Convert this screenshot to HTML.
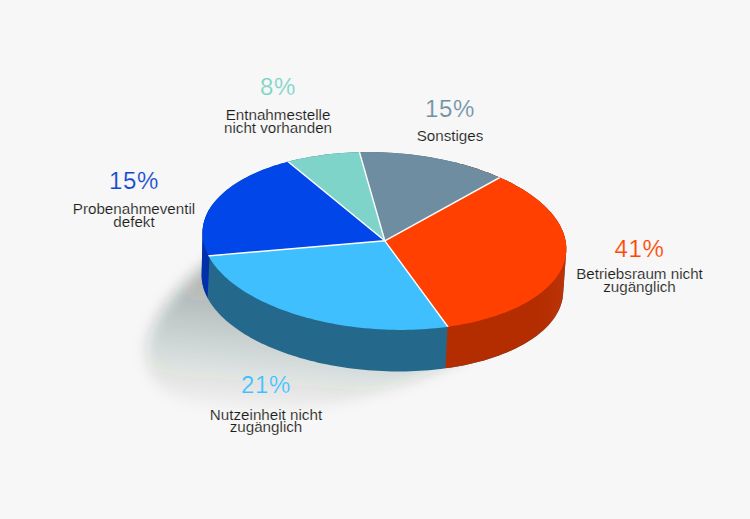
<!DOCTYPE html><html><head><meta charset="utf-8"><title>Chart</title><style>
html,body{margin:0;padding:0}
body{width:750px;height:519px;background:#f7f7f7;position:relative;overflow:hidden;font-family:"Liberation Sans",sans-serif}
.t{position:absolute;white-space:nowrap;transform:translateX(-50%);line-height:1}
.p{letter-spacing:0.7px;font-size:24px;-webkit-text-stroke:0.2px #f7f7f7}
.l{font-size:15.2px;color:#1d1d1b;-webkit-text-stroke:0.15px #f7f7f7}
</style></head><body>
<svg width="750" height="519" viewBox="0 0 750 519" style="position:absolute;left:0;top:0">
<defs><clipPath id="top"><path d="M566.22,251.36 L566.02,253.66 L565.70,255.96 L565.26,258.25 L564.69,260.53 L564.00,262.79 L563.19,265.04 L562.25,267.27 L561.20,269.49 L560.02,271.68 L558.72,273.85 L557.30,276.00 L555.76,278.13 L554.11,280.23 L552.34,282.31 L550.45,284.35 L548.45,286.37 L546.34,288.36 L544.12,290.31 L541.78,292.23 L539.34,294.11 L536.80,295.96 L534.15,297.77 L531.39,299.54 L528.54,301.27 L525.58,302.96 L522.53,304.61 L519.39,306.21 L516.15,307.77 L512.83,309.28 L509.41,310.75 L505.91,312.17 L502.32,313.54 L498.66,314.86 L494.92,316.13 L491.10,317.35 L487.20,318.51 L483.24,319.62 L479.21,320.68 L475.12,321.69 L470.96,322.64 L466.74,323.53 L462.47,324.37 L458.14,325.14 L453.76,325.87 L449.34,326.53 L444.87,327.13 L440.36,327.68 L435.81,328.17 L431.22,328.59 L426.61,328.96 L421.96,329.26 L417.29,329.51 L412.60,329.70 L407.88,329.82 L403.15,329.88 L398.41,329.89 L393.66,329.83 L388.90,329.71 L384.14,329.53 L379.38,329.29 L374.62,328.99 L369.87,328.62 L365.13,328.20 L360.40,327.72 L355.69,327.18 L351.00,326.58 L346.33,325.92 L341.69,325.20 L337.08,324.43 L332.50,323.60 L327.95,322.71 L323.45,321.77 L318.98,320.77 L314.56,319.71 L310.19,318.60 L305.87,317.44 L301.60,316.23 L297.39,314.96 L293.24,313.65 L289.15,312.28 L285.13,310.87 L281.17,309.40 L277.29,307.89 L273.48,306.34 L269.74,304.74 L266.09,303.09 L262.51,301.41 L259.02,299.68 L255.62,297.91 L252.30,296.11 L249.07,294.26 L245.94,292.38 L242.90,290.46 L239.96,288.51 L237.11,286.53 L234.37,284.52 L231.73,282.47 L229.20,280.40 L226.77,278.30 L224.45,276.18 L222.24,274.03 L220.14,271.85 L218.15,269.66 L216.28,267.45 L214.52,265.22 L212.88,262.97 L211.35,260.71 L209.95,258.43 L208.66,256.15 L207.50,253.85 L206.45,251.54 L205.53,249.23 L204.73,246.91 L204.06,244.58 L203.50,242.26 L203.07,239.93 L202.77,237.60 L202.59,235.28 L202.54,232.96 L202.60,230.64 L202.80,228.34 L203.12,226.04 L203.56,223.75 L204.13,221.47 L204.82,219.21 L205.63,216.96 L206.57,214.73 L207.62,212.51 L208.80,210.32 L210.10,208.15 L211.52,206.00 L213.06,203.87 L214.71,201.77 L216.48,199.69 L218.37,197.65 L220.37,195.63 L222.48,193.64 L224.70,191.69 L227.04,189.77 L229.48,187.89 L232.02,186.04 L234.67,184.23 L237.43,182.46 L240.28,180.73 L243.24,179.04 L246.29,177.39 L249.43,175.79 L252.67,174.23 L255.99,172.72 L259.41,171.25 L262.91,169.83 L266.50,168.46 L270.16,167.14 L273.90,165.87 L277.72,164.65 L281.62,163.49 L285.58,162.38 L289.61,161.32 L293.70,160.31 L297.86,159.36 L302.08,158.47 L306.35,157.63 L310.68,156.86 L315.06,156.13 L319.48,155.47 L323.95,154.87 L328.46,154.32 L333.01,153.83 L337.60,153.41 L342.21,153.04 L346.86,152.74 L351.53,152.49 L356.22,152.30 L360.94,152.18 L365.67,152.12 L370.41,152.11 L375.16,152.17 L379.92,152.29 L384.68,152.47 L389.44,152.71 L394.20,153.01 L398.95,153.38 L403.69,153.80 L408.42,154.28 L413.13,154.82 L417.82,155.42 L422.49,156.08 L427.13,156.80 L431.74,157.57 L436.32,158.40 L440.87,159.29 L445.37,160.23 L449.84,161.23 L454.26,162.29 L458.63,163.40 L462.95,164.56 L467.22,165.77 L471.43,167.04 L475.58,168.35 L479.67,169.72 L483.69,171.13 L487.65,172.60 L491.53,174.11 L495.34,175.66 L499.08,177.26 L502.73,178.91 L506.31,180.59 L509.80,182.32 L513.20,184.09 L516.52,185.89 L519.75,187.74 L522.88,189.62 L525.92,191.54 L528.86,193.49 L531.71,195.47 L534.45,197.48 L537.09,199.53 L539.62,201.60 L542.05,203.70 L544.37,205.82 L546.58,207.97 L548.68,210.15 L550.67,212.34 L552.54,214.55 L554.30,216.78 L555.94,219.03 L557.47,221.29 L558.87,223.57 L560.16,225.85 L561.32,228.15 L562.37,230.46 L563.29,232.77 L564.09,235.09 L564.76,237.42 L565.32,239.74 L565.75,242.07 L566.05,244.40 L566.23,246.72 L566.28,249.04Z"/></clipPath>
<clipPath id="hull"><path d="M201.63,275.11 L202.54,232.96 L202.60,230.64 L202.80,228.34 L203.12,226.04 L203.56,223.75 L204.13,221.47 L204.82,219.21 L205.63,216.96 L206.57,214.73 L207.62,212.51 L208.80,210.32 L210.10,208.15 L211.52,206.00 L213.06,203.87 L214.71,201.77 L216.48,199.69 L218.37,197.65 L220.37,195.63 L222.48,193.64 L224.70,191.69 L227.04,189.77 L229.48,187.89 L232.02,186.04 L234.67,184.23 L237.43,182.46 L240.28,180.73 L243.24,179.04 L246.29,177.39 L249.43,175.79 L252.67,174.23 L255.99,172.72 L259.41,171.25 L262.91,169.83 L266.50,168.46 L270.16,167.14 L273.90,165.87 L277.72,164.65 L281.62,163.49 L285.58,162.38 L289.61,161.32 L293.70,160.31 L297.86,159.36 L302.08,158.47 L306.35,157.63 L310.68,156.86 L315.06,156.13 L319.48,155.47 L323.95,154.87 L328.46,154.32 L333.01,153.83 L337.60,153.41 L342.21,153.04 L346.86,152.74 L351.53,152.49 L356.22,152.30 L360.94,152.18 L365.67,152.12 L370.41,152.11 L375.16,152.17 L379.92,152.29 L384.68,152.47 L389.44,152.71 L394.20,153.01 L398.95,153.38 L403.69,153.80 L408.42,154.28 L413.13,154.82 L417.82,155.42 L422.49,156.08 L427.13,156.80 L431.74,157.57 L436.32,158.40 L440.87,159.29 L445.37,160.23 L449.84,161.23 L454.26,162.29 L458.63,163.40 L462.95,164.56 L467.22,165.77 L471.43,167.04 L475.58,168.35 L479.67,169.72 L483.69,171.13 L487.65,172.60 L491.53,174.11 L495.34,175.66 L499.08,177.26 L502.73,178.91 L506.31,180.59 L509.80,182.32 L513.20,184.09 L516.52,185.89 L519.75,187.74 L522.88,189.62 L525.92,191.54 L528.86,193.49 L531.71,195.47 L534.45,197.48 L537.09,199.53 L539.62,201.60 L542.05,203.70 L544.37,205.82 L546.58,207.97 L548.68,210.15 L550.67,212.34 L552.54,214.55 L554.30,216.78 L555.94,219.03 L557.47,221.29 L558.87,223.57 L560.16,225.85 L561.32,228.15 L562.37,230.46 L563.29,232.77 L564.09,235.09 L564.76,237.42 L565.32,239.74 L565.75,242.07 L566.05,244.40 L566.23,246.72 L566.28,249.04 L566.22,251.36 L563.12,293.39 L562.93,295.69 L562.62,297.97 L562.18,300.25 L561.61,302.51 L560.93,304.76 L560.12,306.99 L559.19,309.21 L558.14,311.41 L556.96,313.60 L555.67,315.76 L554.26,317.89 L552.74,320.01 L551.09,322.10 L549.33,324.16 L547.46,326.19 L545.47,328.20 L543.37,330.17 L541.16,332.11 L538.84,334.02 L536.41,335.89 L533.88,337.73 L531.25,339.53 L528.51,341.29 L525.67,343.01 L522.74,344.69 L519.71,346.33 L516.58,347.92 L513.36,349.47 L510.05,350.97 L506.66,352.43 L503.18,353.84 L499.62,355.20 L495.97,356.52 L492.25,357.78 L488.46,358.99 L484.59,360.15 L480.65,361.25 L476.64,362.31 L472.57,363.30 L468.44,364.25 L464.25,365.13 L460.00,365.97 L455.70,366.74 L451.35,367.46 L446.95,368.12 L442.51,368.72 L438.02,369.26 L433.50,369.74 L428.94,370.17 L424.35,370.53 L419.74,370.84 L415.09,371.08 L410.43,371.26 L405.74,371.39 L401.04,371.45 L396.33,371.45 L391.61,371.39 L386.88,371.28 L382.14,371.10 L377.41,370.86 L372.68,370.56 L367.96,370.20 L363.25,369.78 L358.55,369.30 L353.87,368.76 L349.20,368.17 L344.56,367.51 L339.95,366.80 L335.36,366.03 L330.81,365.20 L326.29,364.32 L321.81,363.38 L317.37,362.39 L312.98,361.34 L308.64,360.24 L304.34,359.08 L300.10,357.88 L295.91,356.62 L291.79,355.31 L287.72,353.95 L283.72,352.55 L279.79,351.09 L275.93,349.59 L272.14,348.05 L268.43,346.46 L264.80,344.82 L261.24,343.15 L257.77,341.43 L254.39,339.67 L251.09,337.88 L247.88,336.04 L244.77,334.17 L241.75,332.27 L238.82,330.33 L236.00,328.36 L233.27,326.35 L230.65,324.32 L228.13,322.26 L225.71,320.18 L223.41,318.06 L221.21,315.93 L219.12,313.77 L217.15,311.59 L215.29,309.39 L213.54,307.17 L211.91,304.94 L210.39,302.69 L209.00,300.43 L207.72,298.15 L206.56,295.87 L205.52,293.58 L204.61,291.28 L203.81,288.97 L203.14,286.66 L202.59,284.35 L202.16,282.04 L201.86,279.72 L201.68,277.41Z"/></clipPath>
<filter id="bl" x="-30%" y="-30%" width="160%" height="160%"><feGaussianBlur stdDeviation="7.1"/></filter><filter id="bl2" x="-30%" y="-30%" width="160%" height="160%"><feGaussianBlur stdDeviation="11"/></filter>
<linearGradient id="shg" gradientUnits="userSpaceOnUse" x1="313.2" y1="172.1" x2="292.5" y2="420.4"><stop offset="0" stop-color="#142824" stop-opacity="0.6"/><stop offset="1.0" stop-color="#142824" stop-opacity="0.0"/></linearGradient><linearGradient id="og" gradientUnits="userSpaceOnUse" x1="535" y1="0" x2="567" y2="0"><stop offset="0" stop-color="#b32d01"/><stop offset="1" stop-color="#bc3306"/></linearGradient><clipPath id="shclip"><path d="M0,0 L0,519 L520,519 L520,300 L300,200 L300,0Z"/></clipPath></defs>
<g clip-path="url(#shclip)"><path d="M595.96,206.57 L597.02,209.92 L597.81,213.36 L598.33,216.89 L598.57,220.52 L598.54,224.22 L598.23,228.00 L597.65,231.85 L596.79,235.78 L595.65,239.76 L594.25,243.80 L592.58,247.90 L590.63,252.05 L588.43,256.24 L585.96,260.47 L583.22,264.73 L580.24,269.02 L577.00,273.33 L573.51,277.67 L569.77,282.01 L565.80,286.36 L561.59,290.71 L557.14,295.06 L552.48,299.40 L547.59,303.73 L542.49,308.04 L537.19,312.32 L531.68,316.57 L525.98,320.79 L520.09,324.97 L514.03,329.10 L507.79,333.18 L501.38,337.21 L494.82,341.18 L488.11,345.08 L481.26,348.91 L474.28,352.67 L467.17,356.35 L459.94,359.95 L452.62,363.46 L445.19,366.87 L437.67,370.19 L430.08,373.41 L422.41,376.53 L414.68,379.54 L406.91,382.43 L399.09,385.21 L391.24,387.88 L383.36,390.42 L375.47,392.83 L367.58,395.12 L359.70,397.28 L351.83,399.30 L343.98,401.19 L336.17,402.94 L328.40,404.55 L320.69,406.02 L313.04,407.34 L305.47,408.52 L297.97,409.55 L290.57,410.43 L283.26,411.17 L276.07,411.75 L268.99,412.18 L262.04,412.47 L255.22,412.60 L248.55,412.57 L242.02,412.40 L235.66,412.07 L229.46,411.60 L223.44,410.97 L217.60,410.19 L211.94,409.26 L206.48,408.19 L201.23,406.97 L196.18,405.60 L191.35,404.09 L186.74,402.44 L182.35,400.65 L178.20,398.72 L174.29,396.66 L170.61,394.46 L167.18,392.14 L164.00,389.69 L161.08,387.11 L158.41,384.41 L156.00,381.60 L153.86,378.67 L151.99,375.63 L150.38,372.48 L149.04,369.23 L147.98,365.88 L147.19,362.44 L146.67,358.91 L146.43,355.28 L146.46,351.58 L146.77,347.80 L147.35,343.95 L148.21,340.02 L149.35,336.04 L150.75,332.00 L152.42,327.90 L154.37,323.75 L156.57,319.56 L159.04,315.33 L161.78,311.07 L164.76,306.78 L168.00,302.47 L171.49,298.13 L175.23,293.79 L179.20,289.44 L183.41,285.09 L187.86,280.74 L192.52,276.40 L197.41,272.07 L202.51,267.76 L207.81,263.48 L213.32,259.23 L219.02,255.01 L224.91,250.83 L230.97,246.70 L237.21,242.62 L243.62,238.59 L250.18,234.62 L256.89,230.72 L263.74,226.89 L270.72,223.13 L277.83,219.45 L285.06,215.85 L292.38,212.34 L299.81,208.93 L307.33,205.61 L314.92,202.39 L322.59,199.27 L330.32,196.26 L338.09,193.37 L345.91,190.59 L353.76,187.92 L361.64,185.38 L369.53,182.97 L377.42,180.68 L385.30,178.52 L393.17,176.50 L401.02,174.61 L408.83,172.86 L416.60,171.25 L424.31,169.78 L431.96,168.46 L439.53,167.28 L447.03,166.25 L454.43,165.37 L461.74,164.63 L468.93,164.05 L476.01,163.62 L482.96,163.33 L489.78,163.20 L496.45,163.23 L502.98,163.40 L509.34,163.73 L515.54,164.20 L521.56,164.83 L527.40,165.61 L533.06,166.54 L538.52,167.61 L543.77,168.83 L548.82,170.20 L553.65,171.71 L558.26,173.36 L562.65,175.15 L566.80,177.08 L570.71,179.14 L574.39,181.34 L577.82,183.66 L581.00,186.11 L583.92,188.69 L586.59,191.39 L589.00,194.20 L591.14,197.13 L593.01,200.17 L594.62,203.32Z" fill="url(#shg)" filter="url(#bl)"/></g>
<path d="M201.63,275.11 L202.54,232.96 L202.60,230.64 L202.80,228.34 L203.12,226.04 L203.56,223.75 L204.13,221.47 L204.82,219.21 L205.63,216.96 L206.57,214.73 L207.62,212.51 L208.80,210.32 L210.10,208.15 L211.52,206.00 L213.06,203.87 L214.71,201.77 L216.48,199.69 L218.37,197.65 L220.37,195.63 L222.48,193.64 L224.70,191.69 L227.04,189.77 L229.48,187.89 L232.02,186.04 L234.67,184.23 L237.43,182.46 L240.28,180.73 L243.24,179.04 L246.29,177.39 L249.43,175.79 L252.67,174.23 L255.99,172.72 L259.41,171.25 L262.91,169.83 L266.50,168.46 L270.16,167.14 L273.90,165.87 L277.72,164.65 L281.62,163.49 L285.58,162.38 L289.61,161.32 L293.70,160.31 L297.86,159.36 L302.08,158.47 L306.35,157.63 L310.68,156.86 L315.06,156.13 L319.48,155.47 L323.95,154.87 L328.46,154.32 L333.01,153.83 L337.60,153.41 L342.21,153.04 L346.86,152.74 L351.53,152.49 L356.22,152.30 L360.94,152.18 L365.67,152.12 L370.41,152.11 L375.16,152.17 L379.92,152.29 L384.68,152.47 L389.44,152.71 L394.20,153.01 L398.95,153.38 L403.69,153.80 L408.42,154.28 L413.13,154.82 L417.82,155.42 L422.49,156.08 L427.13,156.80 L431.74,157.57 L436.32,158.40 L440.87,159.29 L445.37,160.23 L449.84,161.23 L454.26,162.29 L458.63,163.40 L462.95,164.56 L467.22,165.77 L471.43,167.04 L475.58,168.35 L479.67,169.72 L483.69,171.13 L487.65,172.60 L491.53,174.11 L495.34,175.66 L499.08,177.26 L502.73,178.91 L506.31,180.59 L509.80,182.32 L513.20,184.09 L516.52,185.89 L519.75,187.74 L522.88,189.62 L525.92,191.54 L528.86,193.49 L531.71,195.47 L534.45,197.48 L537.09,199.53 L539.62,201.60 L542.05,203.70 L544.37,205.82 L546.58,207.97 L548.68,210.15 L550.67,212.34 L552.54,214.55 L554.30,216.78 L555.94,219.03 L557.47,221.29 L558.87,223.57 L560.16,225.85 L561.32,228.15 L562.37,230.46 L563.29,232.77 L564.09,235.09 L564.76,237.42 L565.32,239.74 L565.75,242.07 L566.05,244.40 L566.23,246.72 L566.28,249.04 L566.22,251.36 L563.12,293.39 L562.93,295.69 L562.62,297.97 L562.18,300.25 L561.61,302.51 L560.93,304.76 L560.12,306.99 L559.19,309.21 L558.14,311.41 L556.96,313.60 L555.67,315.76 L554.26,317.89 L552.74,320.01 L551.09,322.10 L549.33,324.16 L547.46,326.19 L545.47,328.20 L543.37,330.17 L541.16,332.11 L538.84,334.02 L536.41,335.89 L533.88,337.73 L531.25,339.53 L528.51,341.29 L525.67,343.01 L522.74,344.69 L519.71,346.33 L516.58,347.92 L513.36,349.47 L510.05,350.97 L506.66,352.43 L503.18,353.84 L499.62,355.20 L495.97,356.52 L492.25,357.78 L488.46,358.99 L484.59,360.15 L480.65,361.25 L476.64,362.31 L472.57,363.30 L468.44,364.25 L464.25,365.13 L460.00,365.97 L455.70,366.74 L451.35,367.46 L446.95,368.12 L442.51,368.72 L438.02,369.26 L433.50,369.74 L428.94,370.17 L424.35,370.53 L419.74,370.84 L415.09,371.08 L410.43,371.26 L405.74,371.39 L401.04,371.45 L396.33,371.45 L391.61,371.39 L386.88,371.28 L382.14,371.10 L377.41,370.86 L372.68,370.56 L367.96,370.20 L363.25,369.78 L358.55,369.30 L353.87,368.76 L349.20,368.17 L344.56,367.51 L339.95,366.80 L335.36,366.03 L330.81,365.20 L326.29,364.32 L321.81,363.38 L317.37,362.39 L312.98,361.34 L308.64,360.24 L304.34,359.08 L300.10,357.88 L295.91,356.62 L291.79,355.31 L287.72,353.95 L283.72,352.55 L279.79,351.09 L275.93,349.59 L272.14,348.05 L268.43,346.46 L264.80,344.82 L261.24,343.15 L257.77,341.43 L254.39,339.67 L251.09,337.88 L247.88,336.04 L244.77,334.17 L241.75,332.27 L238.82,330.33 L236.00,328.36 L233.27,326.35 L230.65,324.32 L228.13,322.26 L225.71,320.18 L223.41,318.06 L221.21,315.93 L219.12,313.77 L217.15,311.59 L215.29,309.39 L213.54,307.17 L211.91,304.94 L210.39,302.69 L209.00,300.43 L207.72,298.15 L206.56,295.87 L205.52,293.58 L204.61,291.28 L203.81,288.97 L203.14,286.66 L202.59,284.35 L202.16,282.04 L201.86,279.72 L201.68,277.41Z" transform="translate(-20 0)" fill="#1c2826" opacity="0.0" filter="url(#bl2)"/>
<g clip-path="url(#hull)">
<rect x="0" y="0" width="750" height="519" fill="#24688b"/>
<path d="M463.50,-10.60 L441.50,452.50 L750,452.50 L750,-10.60Z" fill="url(#og)"/>
<path d="M225.60,-81.10 L203.60,382.00 L0,382.00 L0,-81.10Z" fill="#0230aa"/>
</g>
<g clip-path="url(#top)">
<path d="M384.80,240.80 L-13.76,274.70 L-15.11,249.05 L-14.82,223.37 L-12.88,197.76 L-9.30,172.33 L-4.09,147.18 L2.72,122.42 L11.10,98.15 L21.03,74.46 L32.45,51.46 L45.33,29.24 L59.60,7.89 L75.22,-12.50Z" fill="#0046e8"/>
<path d="M384.80,240.80 L75.22,-12.50 L88.41,-27.81 L102.36,-42.44 L117.03,-56.35 L132.38,-69.50 L148.38,-81.85 L164.98,-93.38 L182.14,-104.06 L199.82,-113.86 L217.97,-122.75 L236.55,-130.71 L255.51,-137.73 L274.80,-143.78Z" fill="#7ed4c8"/>
<path d="M384.80,240.80 L274.80,-143.78 L318.53,-153.67 L363.10,-158.61 L407.93,-158.53 L452.48,-153.43 L496.18,-143.38 L538.47,-128.50 L578.84,-108.98 L616.77,-85.07 L651.78,-57.06 L683.44,-25.31 L711.35,9.79 L735.15,47.79Z" fill="#6e8da0"/>
<path d="M384.80,240.80 L735.15,47.79 L755.75,91.15 L771.01,136.66 L780.70,183.68 L784.69,231.52 L782.92,279.49 L775.42,326.91 L762.29,373.09 L743.73,417.36 L719.99,459.08 L691.43,497.67 L658.45,532.55 L621.53,563.23Z" fill="#ff4000"/>
<path d="M384.80,240.80 L621.53,563.23 L561.20,599.80 L495.38,625.21 L426.12,638.66 L355.58,639.73 L285.95,628.39 L219.39,605.00 L157.98,570.27 L103.62,525.30 L58.01,471.47 L22.57,410.47 L-1.61,344.19 L-13.76,274.70Z" fill="#40bfff"/>
<line x1="384.8" y1="240.8" x2="-13.76" y2="274.70" stroke="#fff" stroke-width="1.4"/>
<line x1="384.8" y1="240.8" x2="75.22" y2="-12.50" stroke="#fff" stroke-width="1.4"/>
<line x1="384.8" y1="240.8" x2="274.80" y2="-143.78" stroke="#fff" stroke-width="1.4"/>
<line x1="384.8" y1="240.8" x2="735.15" y2="47.79" stroke="#fff" stroke-width="1.4"/>
<line x1="384.8" y1="240.8" x2="621.53" y2="563.23" stroke="#fff" stroke-width="1.4"/>
</g>
</svg>
<div class="t p" style="left:134px;top:169.28px;color:#0f46d2">15%</div>
<div class="t l" style="left:134px;top:200.73px">Probenahmeventil</div>
<div class="t l" style="left:134px;top:214.13px">defekt</div>
<div class="t p" style="left:278px;top:74.68px;color:#7dd3c8">8%</div>
<div class="t l" style="left:278px;top:106.53px">Entnahmestelle</div>
<div class="t l" style="left:278px;top:119.73px">nicht vorhanden</div>
<div class="t p" style="left:450px;top:97.08px;color:#6e8fa3">15%</div>
<div class="t l" style="left:450px;top:127.53px">Sonstiges</div>
<div class="t p" style="left:639.5px;top:236.68px;color:#ff4500">41%</div>
<div class="t l" style="left:639.5px;top:266.13px">Betriebsraum nicht</div>
<div class="t l" style="left:639.5px;top:278.73px">zugänglich</div>
<div class="t p" style="left:266px;top:373.08px;color:#40beff">21%</div>
<div class="t l" style="left:266px;top:407.13px">Nutzeinheit nicht</div>
<div class="t l" style="left:266px;top:419.13px">zugänglich</div>
</body></html>
